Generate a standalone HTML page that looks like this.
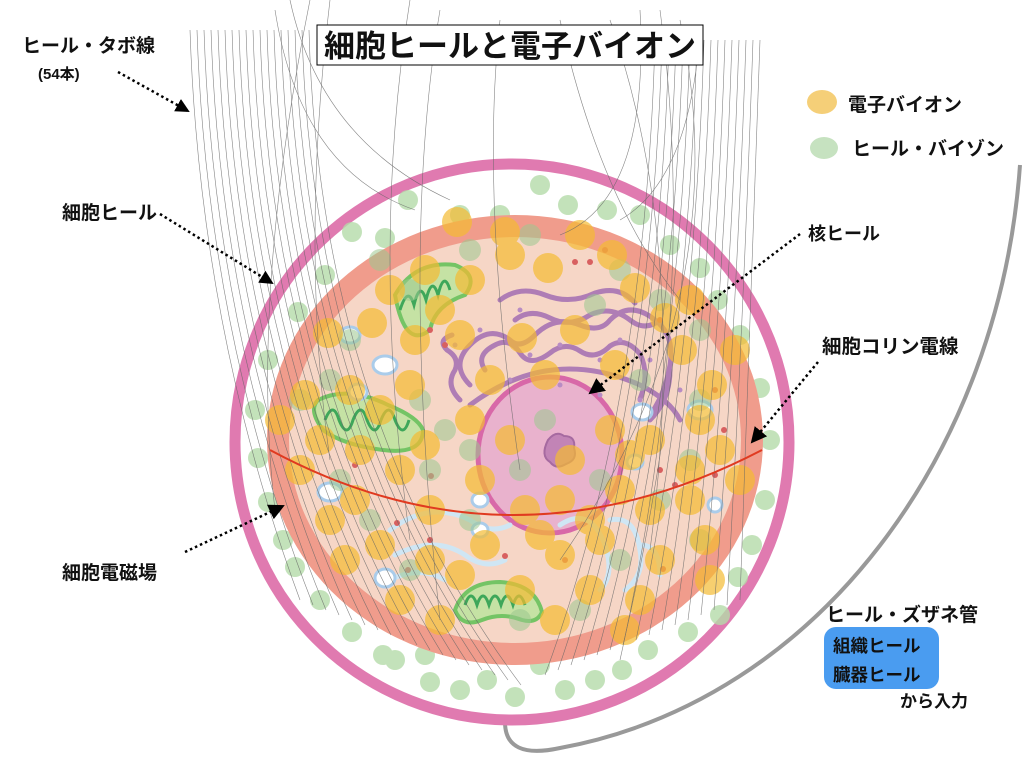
<!DOCTYPE html>
<html><head><meta charset="utf-8"><style>
html,body{margin:0;padding:0;background:#fff;}
svg{display:block;}
text{font-family:"Liberation Sans","Noto Sans CJK JP",sans-serif;font-weight:bold;fill:#111;}
</style></head><body>
<svg width="1024" height="768" viewBox="0 0 1024 768" xmlns="http://www.w3.org/2000/svg">
<defs>
<marker id="ah" markerWidth="14" markerHeight="14" refX="12" refY="7" orient="auto" markerUnits="userSpaceOnUse"><path d="M0,0 L14,7 L0,14 z" fill="#000"/></marker>
<marker id="ah2" markerWidth="16" markerHeight="16" refX="14" refY="8" orient="auto" markerUnits="userSpaceOnUse"><path d="M0,0 L16,8 L0,16 z" fill="#000"/></marker>
</defs>
<path d="M1020,165 C1000,450 820,700 560,748 Q505,760 505,722" fill="none" stroke="#999" stroke-width="4"/>
<ellipse cx="512" cy="442" rx="277" ry="278" fill="#fff" stroke="#e07ab0" stroke-width="11"/>
<g fill="#b5dba9" opacity="0.8">
<circle cx="540" cy="185" r="10"/><circle cx="568" cy="205" r="10"/><circle cx="607" cy="210" r="10"/><circle cx="500" cy="215" r="10"/><circle cx="460" cy="215" r="10"/><circle cx="445" cy="245" r="10"/><circle cx="352" cy="232" r="10"/><circle cx="325" cy="275" r="10"/><circle cx="298" cy="312" r="10"/><circle cx="268" cy="360" r="10"/><circle cx="255" cy="410" r="10"/><circle cx="258" cy="458" r="10"/><circle cx="268" cy="502" r="10"/><circle cx="283" cy="540" r="10"/><circle cx="295" cy="567" r="10"/><circle cx="320" cy="600" r="10"/><circle cx="352" cy="632" r="10"/><circle cx="383" cy="655" r="10"/><circle cx="425" cy="655" r="10"/><circle cx="460" cy="690" r="10"/><circle cx="487" cy="680" r="10"/><circle cx="515" cy="697" r="10"/><circle cx="540" cy="665" r="10"/><circle cx="565" cy="690" r="10"/><circle cx="595" cy="680" r="10"/><circle cx="622" cy="670" r="10"/><circle cx="648" cy="650" r="10"/><circle cx="688" cy="632" r="10"/><circle cx="720" cy="615" r="10"/><circle cx="738" cy="577" r="10"/><circle cx="752" cy="545" r="10"/><circle cx="765" cy="500" r="10"/><circle cx="770" cy="440" r="10"/><circle cx="760" cy="388" r="10"/><circle cx="740" cy="335" r="10"/><circle cx="718" cy="300" r="10"/><circle cx="700" cy="268" r="10"/><circle cx="670" cy="245" r="10"/><circle cx="640" cy="215" r="10"/><circle cx="430" cy="682" r="10"/><circle cx="395" cy="660" r="10"/><circle cx="408" cy="200" r="10"/><circle cx="385" cy="238" r="10"/>
</g>
<ellipse cx="515" cy="440" rx="248" ry="225" fill="#f09c8c"/>
<ellipse cx="515" cy="440" rx="226" ry="203" fill="#f6d6c6"/>
<ellipse cx="550" cy="455" rx="72" ry="78" fill="#e9b2cd" stroke="#d868a8" stroke-width="5"/>
<path d="M548,440 q8,-10 16,-4 q12,0 10,12 q4,12 -8,16 q-10,6 -16,-2 q-10,-6 -2,-22z" fill="#c284b6" stroke="#a66aa0" stroke-width="2"/>
<g fill="none" stroke="#a874b4" stroke-width="5" stroke-linecap="round" opacity="0.9">
<path d="M470,385 q-20,-20 0,-40 q20,-20 40,-5 q10,10 25,-5 q20,-20 45,-10 q20,8 30,-5 q20,-20 45,0 q20,15 15,45 q-5,30 -20,50"/>
<path d="M485,370 q-10,-15 10,-25 q15,-8 25,8 q10,15 30,0 q15,-12 30,-2 q15,10 30,-5 q15,-10 30,8 q10,20 0,45"/>
<path d="M460,400 q-15,-15 -5,-30 q5,-12 -8,-20 q-10,-10 5,-15"/>
<path d="M500,300 q20,-15 45,-5 q25,10 50,-2 q25,-8 40,10"/>
<path d="M515,320 q15,-12 35,-2 q20,10 40,-3 q20,-10 40,5 q15,12 30,0"/>
<path d="M470,405 q80,-60 170,-20 q30,15 40,35"/>
<path d="M650,420 q20,-20 20,-50"/>
</g>
<g fill="#b88cc4"><circle cx="480" cy="330" r="2.5"/><circle cx="530" cy="355" r="2.5"/><circle cx="560" cy="345" r="2.5"/><circle cx="600" cy="360" r="2.5"/><circle cx="620" cy="340" r="2.5"/><circle cx="650" cy="360" r="2.5"/><circle cx="510" cy="380" r="2.5"/><circle cx="560" cy="385" r="2.5"/><circle cx="600" cy="395" r="2.5"/><circle cx="640" cy="400" r="2.5"/><circle cx="680" cy="390" r="2.5"/><circle cx="455" cy="345" r="2.5"/><circle cx="520" cy="310" r="2.5"/></g>
<g>
<path d="M395,295 q20,-35 60,-30 q25,10 10,30 q-30,10 -35,35 q-25,20 -35,-35z" fill="#c5e2a4" stroke="#74c465" stroke-width="4"/>
<path d="M400,310 q8,-25 14,-5 q6,-25 12,-5 q6,-25 12,-5 q6,-25 12,-5" fill="none" stroke="#3ea75a" stroke-width="3"/>
<path d="M318,400 q30,-15 70,5 q30,12 35,25 q0,25 -40,20 q-40,-5 -60,-20 q-15,-20 -5,-30z" fill="#c5e2a4" stroke="#74c465" stroke-width="4"/>
<path d="M325,420 q8,-20 14,0 q8,20 14,0 q8,-20 14,0 q8,20 14,0 q8,-20 14,0 q8,20 14,0" fill="none" stroke="#3ea75a" stroke-width="3"/>
<path d="M455,610 q10,-28 45,-28 q35,2 42,30 q-5,12 -20,8 q-20,-8 -40,0 q-20,8 -27,-10z" fill="#c5e2a4" stroke="#74c465" stroke-width="4"/>
<path d="M465,605 q6,-18 12,0 q6,-18 12,0 q6,-18 12,0 q6,-18 12,0 q6,-18 12,0" fill="none" stroke="#3ea75a" stroke-width="3"/>
</g>
<g fill="none" stroke="#cfe6f4" stroke-width="5" stroke-linecap="round">
<path d="M390,530 q40,-30 80,-10 q20,15 40,5"/><path d="M395,555 q40,-20 70,0 q20,15 40,5"/><path d="M390,580 q30,-15 55,0"/>
<path d="M560,525 q30,-20 45,20 q10,30 -5,45"/><path d="M610,520 q25,-5 30,30 q5,25 -15,40"/><path d="M640,545 q20,0 20,30"/>
</g>
<g fill="#fff" stroke="#aaccea" stroke-width="3">
<ellipse cx="350" cy="335" rx="10" ry="8"/><ellipse cx="385" cy="365" rx="12" ry="9"/><ellipse cx="358" cy="392" rx="9" ry="8"/><ellipse cx="330" cy="492" rx="12" ry="9"/><ellipse cx="385" cy="578" rx="10" ry="9"/><ellipse cx="480" cy="500" rx="8" ry="7"/><ellipse cx="642" cy="412" rx="10" ry="8"/><ellipse cx="700" cy="410" rx="12" ry="9"/><ellipse cx="635" cy="462" rx="8" ry="7"/><ellipse cx="715" cy="505" rx="7" ry="7"/><ellipse cx="480" cy="530" rx="8" ry="7"/></g>
<g fill="#d86060"><circle cx="430" cy="330" r="3"/><circle cx="445" cy="345" r="3"/><circle cx="605" cy="250" r="3"/><circle cx="590" cy="262" r="3"/><circle cx="575" cy="262" r="3"/><circle cx="660" cy="320" r="3"/><circle cx="715" cy="390" r="3"/><circle cx="724" cy="430" r="3"/><circle cx="675" cy="485" r="3"/><circle cx="660" cy="470" r="3"/><circle cx="355" cy="465" r="3"/><circle cx="397" cy="523" r="3"/><circle cx="430" cy="540" r="3"/><circle cx="505" cy="556" r="3"/><circle cx="565" cy="560" r="3"/><circle cx="663" cy="569" r="3"/><circle cx="715" cy="475" r="3"/><circle cx="408" cy="570" r="3"/><circle cx="431" cy="476" r="3"/></g>
<g fill="#9cc890" opacity="0.55">
<circle cx="380" cy="260" r="11"/><circle cx="410" cy="290" r="11"/><circle cx="350" cy="340" r="11"/><circle cx="330" cy="380" r="11"/><circle cx="300" cy="400" r="11"/><circle cx="420" cy="400" r="11"/><circle cx="445" cy="430" r="11"/><circle cx="620" cy="270" r="11"/><circle cx="595" cy="305" r="11"/><circle cx="660" cy="300" r="11"/><circle cx="700" cy="330" r="11"/><circle cx="640" cy="380" r="11"/><circle cx="700" cy="400" r="11"/><circle cx="690" cy="460" r="11"/><circle cx="660" cy="500" r="11"/><circle cx="620" cy="560" r="11"/><circle cx="580" cy="610" r="11"/><circle cx="430" cy="470" r="11"/><circle cx="470" cy="450" r="11"/><circle cx="520" cy="470" r="11"/><circle cx="600" cy="480" r="11"/><circle cx="340" cy="480" r="11"/><circle cx="370" cy="520" r="11"/><circle cx="410" cy="570" r="11"/><circle cx="470" cy="520" r="11"/><circle cx="520" cy="620" r="11"/><circle cx="700" cy="540" r="11"/><circle cx="545" cy="420" r="11"/><circle cx="530" cy="235" r="11"/><circle cx="470" cy="250" r="11"/>
</g>
<g fill="#f5bb33" opacity="0.7">
<circle cx="457" cy="222" r="15"/><circle cx="505" cy="232" r="15"/><circle cx="580" cy="235" r="15"/><circle cx="612" cy="255" r="15"/><circle cx="510" cy="255" r="15"/><circle cx="548" cy="268" r="15"/><circle cx="425" cy="270" r="15"/><circle cx="470" cy="280" r="15"/><circle cx="390" cy="290" r="15"/><circle cx="440" cy="310" r="15"/><circle cx="372" cy="323" r="15"/><circle cx="460" cy="335" r="15"/><circle cx="328" cy="333" r="15"/><circle cx="522" cy="338" r="15"/><circle cx="575" cy="330" r="15"/><circle cx="635" cy="288" r="15"/><circle cx="690" cy="300" r="15"/><circle cx="665" cy="318" r="15"/><circle cx="682" cy="350" r="15"/><circle cx="735" cy="350" r="15"/><circle cx="712" cy="385" r="15"/><circle cx="615" cy="365" r="15"/><circle cx="610" cy="430" r="15"/><circle cx="650" cy="440" r="15"/><circle cx="700" cy="420" r="15"/><circle cx="720" cy="450" r="15"/><circle cx="690" cy="470" r="15"/><circle cx="740" cy="480" r="15"/><circle cx="650" cy="510" r="15"/><circle cx="620" cy="490" r="15"/><circle cx="600" cy="540" r="15"/><circle cx="660" cy="560" r="15"/><circle cx="705" cy="540" r="15"/><circle cx="710" cy="580" r="15"/><circle cx="640" cy="600" r="15"/><circle cx="555" cy="620" r="15"/><circle cx="520" cy="590" r="15"/><circle cx="460" cy="575" r="15"/><circle cx="430" cy="560" r="15"/><circle cx="400" cy="600" r="15"/><circle cx="345" cy="560" r="15"/><circle cx="300" cy="470" r="15"/><circle cx="280" cy="420" r="15"/><circle cx="305" cy="395" r="15"/><circle cx="320" cy="440" r="15"/><circle cx="350" cy="390" r="15"/><circle cx="380" cy="410" r="15"/><circle cx="410" cy="385" r="15"/><circle cx="425" cy="445" r="15"/><circle cx="400" cy="470" r="15"/><circle cx="355" cy="500" r="15"/><circle cx="430" cy="510" r="15"/><circle cx="480" cy="480" r="15"/><circle cx="470" cy="420" r="15"/><circle cx="510" cy="440" r="15"/><circle cx="570" cy="460" r="15"/><circle cx="560" cy="500" r="15"/><circle cx="590" cy="520" r="15"/><circle cx="525" cy="510" r="15"/><circle cx="545" cy="375" r="15"/><circle cx="490" cy="380" r="15"/><circle cx="415" cy="340" r="15"/><circle cx="360" cy="450" r="15"/><circle cx="440" cy="620" r="15"/><circle cx="540" cy="535" r="15"/><circle cx="590" cy="590" r="15"/><circle cx="560" cy="555" r="15"/><circle cx="485" cy="545" r="15"/><circle cx="630" cy="455" r="15"/><circle cx="625" cy="630" r="15"/><circle cx="380" cy="545" r="15"/><circle cx="690" cy="500" r="15"/><circle cx="330" cy="520" r="15"/>
</g>
<g fill="none" stroke="#666" stroke-width="0.6" opacity="0.8">
<path d="M190,30 Q200,330 300,600"/><path d="M197,30 Q207,335 313,605"/><path d="M204,30 Q214,340 326,610"/><path d="M211,30 Q221,345 339,615"/><path d="M218,30 Q228,350 352,620"/><path d="M225,30 Q235,355 365,625"/><path d="M232,30 Q242,360 378,630"/><path d="M239,30 Q249,365 391,635"/><path d="M246,30 Q256,370 404,640"/><path d="M253,30 Q263,375 417,645"/><path d="M260,30 Q270,380 430,650"/><path d="M267,30 Q277,385 443,655"/><path d="M274,30 Q284,390 456,660"/><path d="M281,30 Q291,395 469,665"/><path d="M288,30 Q298,400 482,670"/><path d="M295,30 Q305,405 495,675"/><path d="M302,30 Q312,410 508,680"/><path d="M309,30 Q319,415 521,685"/>
<path d="M760,40 Q750,330 740,600"/><path d="M753,40 Q743,335 727,605"/><path d="M746,40 Q736,340 714,610"/><path d="M739,40 Q729,345 701,615"/><path d="M732,40 Q722,350 688,620"/><path d="M725,40 Q715,355 675,625"/><path d="M718,40 Q708,360 662,630"/><path d="M711,40 Q701,365 649,635"/><path d="M704,40 Q694,370 636,640"/><path d="M697,40 Q687,375 623,645"/><path d="M690,40 Q680,380 610,650"/><path d="M683,40 Q673,385 597,655"/><path d="M676,40 Q666,390 584,660"/><path d="M669,40 Q659,395 571,665"/><path d="M662,40 Q652,400 558,670"/><path d="M655,40 Q645,405 545,675"/>
<path d="M310,0 Q250,300 275,510"/><path d="M275,10 Q300,170 415,210"/><path d="M290,0 Q320,140 450,200"/><path d="M330,0 Q300,250 330,460"/><path d="M410,0 Q370,250 410,540"/><path d="M440,10 Q400,250 440,620"/><path d="M500,20 Q480,200 520,470"/><path d="M560,20 Q600,200 680,300"/><path d="M640,10 Q650,200 560,235"/><path d="M700,30 Q690,180 620,220"/><path d="M610,20 Q690,250 650,550"/><path d="M660,10 Q700,300 620,660"/><path d="M680,20 Q740,300 560,560"/>
</g>
<path d="M270,450 Q512,580 762,450" fill="none" stroke="#e03a20" stroke-width="2"/>
<g stroke="#000" stroke-width="2.5" stroke-dasharray="2.5,3" fill="none">
<path d="M118,72 L188,111" marker-end="url(#ah)"/>
<path d="M160,214 L272,283" marker-end="url(#ah)"/>
<path d="M800,234 L590,393" marker-end="url(#ah2)"/>
<path d="M818,362 L752,442" marker-end="url(#ah2)"/>
<path d="M185,552 L283,506" marker-end="url(#ah2)"/>
</g>
<rect x="317" y="25" width="386" height="40" fill="#fff" stroke="#000" stroke-width="1"/>
<text x="510" y="57" font-size="31" text-anchor="middle">細胞ヒールと電子バイオン</text>
<text x="22" y="52" font-size="19">ヒール・タボ線</text>
<text x="38" y="79" font-size="15">(54本)</text>
<text x="62" y="219" font-size="19">細胞ヒール</text>
<text x="808" y="240" font-size="18">核ヒール</text>
<text x="822" y="353" font-size="19.5">細胞コリン電線</text>
<text x="62" y="579" font-size="19">細胞電磁場</text>
<ellipse cx="822" cy="102" rx="15" ry="12" fill="#f5cf78"/>
<text x="848" y="111" font-size="19">電子バイオン</text>
<ellipse cx="824" cy="148" rx="14" ry="11" fill="#c6e2c0"/>
<text x="852" y="155" font-size="19">ヒール・バイゾン</text>
<text x="826" y="621" font-size="19">ヒール・ズザネ管</text>
<rect x="824" y="627" width="115" height="62" rx="12" fill="#4a9cf0"/>
<text x="833" y="652" font-size="17.5">組織ヒール</text>
<text x="833" y="681" font-size="17.5">臓器ヒール</text>
<text x="900" y="707" font-size="17">から入力</text>
</svg>
</body></html>
